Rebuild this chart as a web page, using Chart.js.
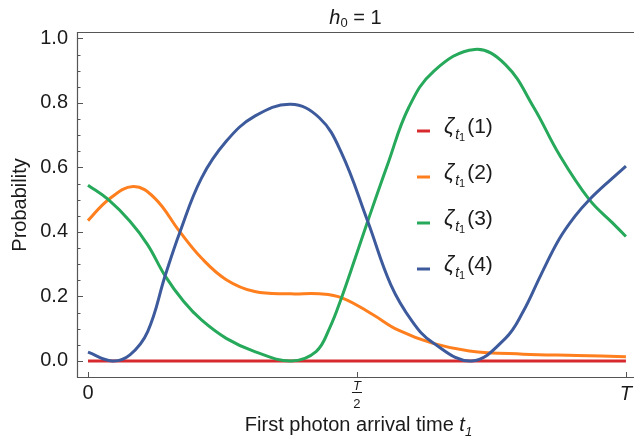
<!DOCTYPE html>
<html>
<head>
<meta charset="utf-8">
<script src="https://cdn.jsdelivr.net/npm/chart.js@4"></script>
<style>
  html, body { margin: 0; padding: 0; background: #fff; }
</style>
</head>
<body>
<canvas id="chart" width="634" height="443"></canvas>
<script>
// Probability of each state vs first photon arrival time (x in units of T)
var redX    = [0, 0.25, 0.5, 0.75, 1];
var redY    = [0, 0, 0, 0, 0];

var orangeX = [0, 0.038, 0.084, 0.124, 0.171, 0.211, 0.257, 0.31, 0.377, 0.43, 0.473, 0.53, 0.576, 0.64, 0.709, 0.809, 0.909, 1.0];
var orangeY = [0.435, 0.50, 0.541, 0.505, 0.40, 0.319, 0.252, 0.215, 0.208, 0.208, 0.195, 0.143, 0.096, 0.055, 0.031, 0.021, 0.017, 0.013];

var greenX  = [0, 0.038, 0.078, 0.111, 0.144, 0.178, 0.211, 0.257, 0.31, 0.377, 0.424, 0.45, 0.47, 0.497, 0.52, 0.557, 0.596, 0.643, 0.719, 0.776, 0.829, 0.876, 0.932, 0.975, 1.0];
var greenY  = [0.545, 0.50, 0.433, 0.36, 0.262, 0.184, 0.127, 0.07, 0.029, 0, 0.029, 0.105, 0.19, 0.32, 0.433, 0.609, 0.785, 0.899, 0.966, 0.919, 0.785, 0.64, 0.5, 0.428, 0.386];

var blueX   = [0, 0.045, 0.078, 0.111, 0.144, 0.171, 0.211, 0.257, 0.31, 0.377, 0.43, 0.47, 0.52, 0.563, 0.603, 0.64, 0.713, 0.776, 0.809, 0.842, 0.876, 0.905, 0.932, 0.975, 1.0];
var blueY   = [0.027, 0, 0.019, 0.091, 0.267, 0.40, 0.567, 0.681, 0.759, 0.796, 0.754, 0.65, 0.433, 0.236, 0.122, 0.058, 0, 0.07, 0.153, 0.267, 0.378, 0.448, 0.5, 0.567, 0.604];

var stateLabels  = ['(1)', '(2)', '(3)', '(4)'];
var yTickValues  = [0, 0.2, 0.4, 0.6, 0.8, 1.0];
var xTickValues  = [0, 0.5, 1];
var xTickLabels  = ['0', 'T/2', 'T'];

var FONT  = "'Liberation Sans', Arial, sans-serif";
var INK   = '#1a1a1a';
var FRAME = '#555555';

function pts(xs, ys) {
  return xs.map(function(v, i) { return { x: v, y: ys[i] }; });
}

// draws a run of text pieces with their own font / baseline shift
function drawRuns(ctx, x, y, runs, align) {
  var total = 0;
  runs.forEach(function(r) { ctx.font = r.f; r.w = ctx.measureText(r.t).width + (r.gap || 0); total += r.w; });
  var cx = align === 'center' ? x - total / 2 : (align === 'right' ? x - total : x);
  ctx.textAlign = 'left';
  ctx.textBaseline = 'alphabetic';
  runs.forEach(function(r) { ctx.font = r.f; ctx.fillText(r.t, cx, y + (r.dy || 0)); cx += r.w; });
}

// frame, inward ticks, title, x labels and the legend
var decorations = {
  id: 'decorations',
  afterDraw: function(chart) {
    var ctx = chart.ctx, a = chart.chartArea;
    var xs = chart.scales.x, ys = chart.scales.y;
    ctx.save();

    ctx.strokeStyle = FRAME;
    ctx.lineWidth = 1.2;
    ctx.beginPath();
    ctx.moveTo(a.right, a.top + 0.5); ctx.lineTo(a.left + 0.5, a.top + 0.5);
    ctx.lineTo(a.left + 0.5, a.bottom - 0.5); ctx.lineTo(a.right, a.bottom - 0.5);
    ctx.stroke();

    // y ticks, major every 0.2 and minor every 0.05
    ctx.lineWidth = 1;
    ctx.beginPath();
    for (var k = 0; k <= 20; k++) {
      var py = Math.round(ys.getPixelForValue(k * 0.05)) + 0.5;
      var len = (k % 4 === 0) ? 6 : 3.5;
      ctx.moveTo(a.left, py); ctx.lineTo(a.left + len, py);
    }
    xTickValues.forEach(function(v) {
      var px = Math.round(xs.getPixelForValue(v)) + 0.5;
      ctx.moveTo(px, a.bottom); ctx.lineTo(px, a.bottom - 6);
    });
    ctx.stroke();

    ctx.fillStyle = INK;

    // title
    drawRuns(ctx, (a.left + a.right) / 2, 24, [
      { t: 'h', f: 'italic 20px ' + FONT },
      { t: '0', f: '13px ' + FONT, dy: 3 },
      { t: ' = 1', f: '20px ' + FONT }
    ], 'center');

    // x tick labels
    xTickValues.forEach(function(v, i) {
      var px = xs.getPixelForValue(v);
      var lab = xTickLabels[i];
      if (lab === 'T/2') {
        drawRuns(ctx, px, 390, [{ t: 'T', f: 'italic 13px ' + FONT }], 'center');
        ctx.fillRect(px - 5, 392, 10, 1);
        drawRuns(ctx, px, 408, [{ t: '2', f: '13px ' + FONT }], 'center');
      } else if (lab === 'T') {
        drawRuns(ctx, px, 400, [{ t: 'T', f: 'italic 20px ' + FONT }], 'center');
      } else {
        drawRuns(ctx, px, 399, [{ t: lab, f: '20px ' + FONT }], 'center');
      }
    });

    // x axis title
    drawRuns(ctx, (a.left + a.right) / 2 + 3, 431, [
      { t: 'First photon arrival time ', f: '20px ' + FONT },
      { t: 't', f: 'italic 20px ' + FONT },
      { t: '1', f: 'italic 13px ' + FONT, dy: 5 }
    ], 'center');

    // legend
    chart.data.datasets.forEach(function(ds, i) {
      var rowY = 131 + 46 * i;
      ctx.strokeStyle = ds.borderColor;
      ctx.lineWidth = 3;
      ctx.beginPath();
      ctx.moveTo(417, rowY); ctx.lineTo(430, rowY);
      ctx.stroke();
      ctx.fillStyle = INK;
      drawRuns(ctx, 444, rowY + 2, [
        { t: 'ζ', f: 'italic 22px ' + FONT, gap: 1 },
        { t: 't', f: 'italic 14px ' + FONT, dy: 6 },
        { t: '1', f: '11px ' + FONT, dy: 8, gap: 2 },
        { t: ds.label, f: '21px ' + FONT }
      ], 'left');
    });

    ctx.restore();
  }
};

var colors = ['#d62a2f', '#ff7f1e', '#26a95a', '#3c5a9c'];
var series = [pts(redX, redY), pts(orangeX, orangeY), pts(greenX, greenY), pts(blueX, blueY)];

new Chart(document.getElementById('chart').getContext('2d'), {
  type: 'line',
  data: {
    datasets: series.map(function(d, i) {
      return {
        label: stateLabels[i],
        data: d,
        borderColor: colors[i],
        backgroundColor: colors[i],
        borderWidth: 3,
        pointRadius: 0,
        tension: 0.4,
        fill: false,
        order: 4 - i
      };
    })
  },
  options: {
    responsive: false,
    animation: false,
    layout: { padding: { top: 32, left: 0, right: 0, bottom: 0 } },
    plugins: { legend: { display: false }, tooltip: { enabled: false }, title: { display: false } },
    scales: {
      x: {
        type: 'linear',
        min: -0.0204,
        max: 1.015,
        ticks: { display: false },
        grid: { display: false, drawTicks: false },
        border: { display: false },
        afterFit: function(s) { s.height = 65; }
      },
      y: {
        min: -0.053,
        max: 1.02,
        afterBuildTicks: function(s) { s.ticks = yTickValues.map(function(v) { return { value: v }; }); },
        ticks: {
          color: INK,
          padding: 9,
          font: { family: FONT, size: 20 },
          callback: function(v) { return v.toFixed(1); }
        },
        grid: { display: false, drawTicks: false },
        border: { display: false },
        title: {
          display: true,
          text: 'Probability',
          color: INK,
          font: { family: FONT, size: 20 },
          padding: { top: 8, bottom: 0 }
        },
        afterFit: function(s) { s.width = 77; }
      }
    }
  },
  plugins: [decorations]
});
</script>
</body>
</html>
